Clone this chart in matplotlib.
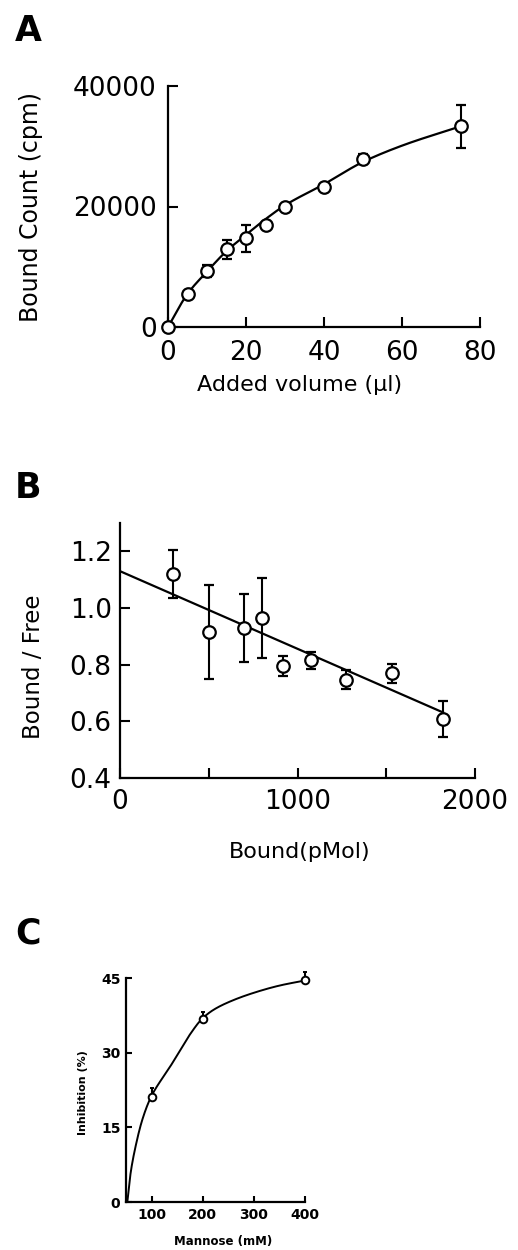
import numpy as np
import matplotlib
matplotlib.use('Agg')
import matplotlib.pyplot as plt

# panel A: bound count vs added volume
vol_a = [0, 5, 10, 15, 20, 25, 30, 40, 50, 75]
count_a = [0, 5500, 9300, 12900, 14700, 16900, 19900, 23300, 27900, 33300]
err_a = [0, 300, 1000, 1600, 2200, 600, 400, 400, 800, 3600]
# hand drawn curve
curve_a_x = [0, 5, 10, 15, 20, 25, 30, 40, 50, 60, 75]
curve_a_y = [0, 5500, 9200, 12600, 15300, 17900, 20200, 23700, 27400, 30100, 33300]

# panel B: scatchard plot
bound_b = [300, 500, 700, 800, 920, 1075, 1275, 1530, 1820]
ratio_b = [1.12, 0.915, 0.93, 0.965, 0.795, 0.815, 0.747, 0.77, 0.608]
err_b = [0.085, 0.165, 0.12, 0.14, 0.035, 0.03, 0.033, 0.033, 0.063]
fit_b_intercept = 1.13
fit_b_slope = -2.74e-4

# panel C: inhibition by mannose
mannose_c = [100, 200, 400]
inhib_c = [21.1, 36.8, 44.5]
err_c = [1.8, 1.3, 1.8]
curve_c_x = [52.6, 59, 68.8, 81.8, 98, 137, 156.5, 176, 198.7, 221,
             254, 299, 351, 400]
curve_c_y = [0, 5.8, 11.2, 16.5, 20.9, 27.3, 30.6, 33.8, 36.8, 38.6,
             40.3, 42.0, 43.5, 44.5]


def pchip(x, y, xs):
    """ monotone cubic through the traced points
    """
    x = np.asarray(x, float)
    y = np.asarray(y, float)
    h = np.diff(x)
    d = np.diff(y) / h
    m = np.zeros_like(y)
    for k in range(1, len(x) - 1):
        if d[k-1] * d[k] > 0:
            w1 = 2 * h[k] + h[k-1]
            w2 = h[k] + 2 * h[k-1]
            m[k] = (w1 + w2) / (w1 / d[k-1] + w2 / d[k])
    m[0] = d[0]
    m[-1] = d[-1]
    idx = np.clip(np.searchsorted(x, xs) - 1, 0, len(h) - 1)
    t = (xs - x[idx]) / h[idx]
    h00 = 2 * t**3 - 3 * t**2 + 1
    h10 = t**3 - 2 * t**2 + t
    h01 = -2 * t**3 + 3 * t**2
    h11 = t**3 - t**2
    return (h00 * y[idx] + h10 * h[idx] * m[idx] + h01 * y[idx+1]
            + h11 * h[idx] * m[idx+1])


def style_axes(ax, tsize, tlen, pad):
    for side in ['top', 'right']:
        ax.spines[side].set_visible(False)
    for side in ['left', 'bottom']:
        ax.spines[side].set_linewidth(1.6)
    ax.tick_params(which='both', direction='in', length=tlen, width=1.5,
                   labelsize=tsize, pad=pad)


plt.rcParams['font.family'] = ['DejaVu Sans']
W, H = 518, 1250
fig = plt.figure(figsize=(W / 100, H / 100), dpi=100)


def px_axes(left, right, top, bottom):
    return fig.add_axes([left / W, 1 - bottom / H, (right - left) / W,
                         (bottom - top) / H])


mk = dict(fmt='o', mfc='white', mec='black', ecolor='black', color='black',
          capthick=1.5, elinewidth=1.5, zorder=3, clip_on=False)

# ---- A
ax = px_axes(168, 480, 86, 327)
xs = np.linspace(0, 75, 300)
ax.plot(xs, pchip(curve_a_x, curve_a_y, xs), 'k-', lw=1.6)
ax.errorbar(vol_a, count_a, yerr=err_a, ms=9, mew=1.6, capsize=3.5, **mk)
ax.set_xlim(0, 80)
ax.set_ylim(0, 40000)
ax.set_xticks([0, 20, 40, 60, 80])
ax.set_yticks([0, 20000, 40000])
style_axes(ax, 19, 7, 8)
ax.tick_params(axis='x', pad=9)
ax.text(-0.44, 0.5, 'Bound Count (cpm)', transform=ax.transAxes,
        rotation=90, ha='center', va='center', fontsize=17)
ax.text(0.423, -0.24, 'Added volume (\u00b5l)', transform=ax.transAxes,
        ha='center', va='center', fontsize=16)

# ---- B
ax = px_axes(120, 475, 523, 778)
xs = np.linspace(0, bound_b[-1], 50)
ax.plot(xs, fit_b_intercept + fit_b_slope * xs, 'k-', lw=1.6)
ax.errorbar(bound_b, ratio_b, yerr=err_b, ms=9, mew=1.6, capsize=3.5, **mk)
ax.set_xlim(0, 2000)
ax.set_ylim(0.4, 1.3)
ax.set_xticks([0, 1000, 2000])
ax.set_xticks([500, 1500], minor=True)
ax.set_yticks([0.4, 0.6, 0.8, 1.0, 1.2])
ax.set_yticklabels(['0.4', '0.6', '0.8', '1.0', '1.2'])
style_axes(ax, 19, 7, 6)
ax.tick_params(axis='x', pad=8)
ax.text(-0.245, 0.435, 'Bound / Free', transform=ax.transAxes,
        rotation=90, ha='center', va='center', fontsize=16.5)
ax.text(0.507, -0.29, 'Bound(pMol)', transform=ax.transAxes,
        ha='center', va='center', fontsize=16)

# ---- C
ax = px_axes(126, 305, 978, 1202)
xs = np.linspace(curve_c_x[0], 400, 400)
ax.plot(xs, pchip(curve_c_x, curve_c_y, xs), 'k-', lw=1.4)
ax.errorbar(mannose_c, inhib_c, yerr=[[0, 0, 0], err_c], ms=5.5, mew=1.4,
            capsize=1.5, **mk)
ax.set_xlim(50, 400)
ax.set_ylim(0, 45)
ax.set_xticks([100, 200, 300, 400])
ax.set_yticks([0, 15, 30, 45])
style_axes(ax, 10, 4, 4)
for lab in ax.get_xticklabels() + ax.get_yticklabels():
    lab.set_fontweight('bold')
ax.text(-0.24, 0.49, 'Inhibition (%)', transform=ax.transAxes,
        rotation=90, ha='center', va='center', fontsize=8, fontweight='bold')
ax.text(0.54, -0.175, 'Mannose (mM)', transform=ax.transAxes,
        ha='center', va='center', fontsize=8.5, fontweight='bold')

# panel letters
for lab, y in [('A', 31), ('B', 488), ('C', 933)]:
    fig.text(28 / W, 1 - y / H, lab, ha='center', va='center',
             fontsize=25, fontweight='bold')

fig.savefig('out.png', dpi=100)
